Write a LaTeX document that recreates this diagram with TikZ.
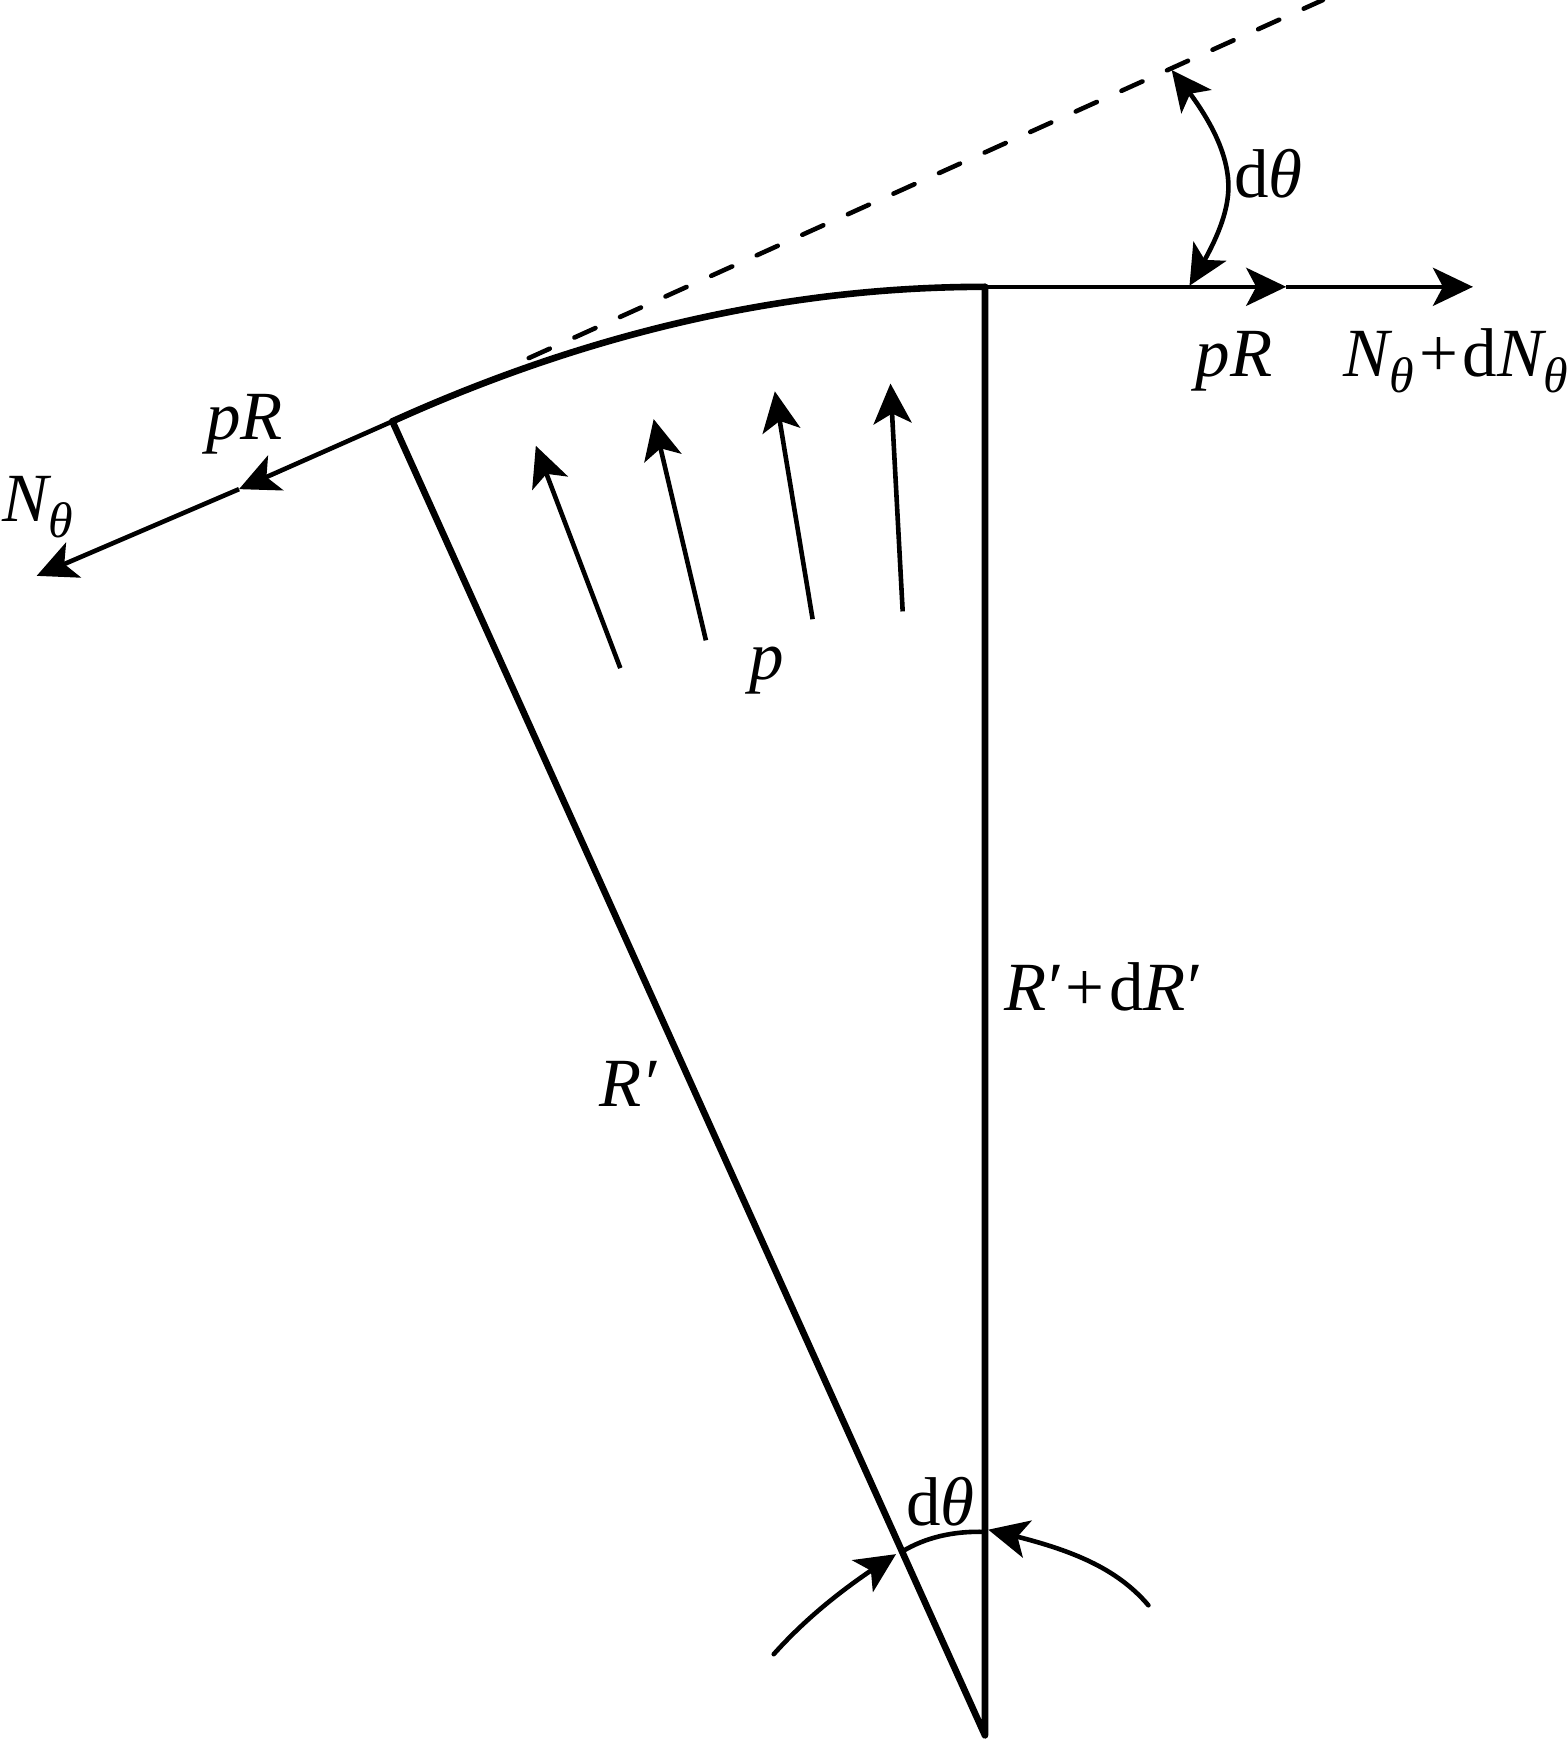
\documentclass[tikz,border=0pt]{standalone}
\usepackage{fontspec}
\setmainfont{Liberation Serif}
\usetikzlibrary{arrows.meta,bending}
\newcommand{\NTh}{\textit{N}\kern-1.5pt\raisebox{-8pt}{\fontsize{25}{25}\selectfont\textit{θ}}}
\newcommand{\PlusSign}{\kern2.5pt+\kern2.5pt}
\tikzset{
  x=0.5558pt,y=-0.5558pt,
  thickline/.style={line width=3.3pt,line cap=round,line join=round},
  midline/.style={line width=2.3pt},
  head/.style={-{Stealth[length=20pt,width=19pt,inset=5pt]}},
  label/.style={inner sep=0pt,font=\fontsize{34.5}{34.5}\selectfont},
}
\begin{document}
\begin{tikzpicture}
\useasboundingbox (0,0) rectangle (1409.6,1567);
\coordinate (apex) at (886,1561);
\coordinate (top) at (886,258);
\coordinate (left) at (353,379);
\coordinate (dashS) at (456,331);
\coordinate (dashE) at (1190,0);
\coordinate (tipA) at (1157,258);
\coordinate (tipB) at (1325,258);
\coordinate (tipC) at (215,440);
\coordinate (tipD) at (33,518);
\coordinate (a1) at (558,601); \coordinate (b1) at (482,401);
\coordinate (a2) at (635,576); \coordinate (b2) at (588,377);
\coordinate (a3) at (731,557); \coordinate (b3) at (697,352);
\coordinate (a4) at (812,550); \coordinate (b4) at (801,345);
\coordinate (angU) at (1054,63);
\coordinate (angM) at (1105,168);
\coordinate (angL) at (1070,257);
\coordinate (arcL) at (811,1396);
\coordinate (arcR) at (886,1378);
\coordinate (inLs) at (696,1488);
\coordinate (inLe) at (806,1398);
\coordinate (inRs) at (1033,1444);
\coordinate (inRe) at (889,1376);

\draw[midline,dash pattern=on 11.5pt off 13.5pt,dash phase=1pt,line cap=round] (dashE) -- (dashS);
\draw[thickline] (left) .. controls (532,298) and (710,258) .. (top);
\draw[thickline] (top) -- (apex) -- (left);
\draw[midline,head] (top) -- (tipA);
\draw[midline,head] (tipA) -- (tipB);
\draw[midline,head] (left) -- (tipC);
\draw[midline,head] (tipC) -- (tipD);
\draw[midline,head] (a1) -- (b1);
\draw[midline,head] (a2) -- (b2);
\draw[midline,head] (a3) -- (b3);
\draw[midline,head] (a4) -- (b4);
\draw[midline,{Stealth[length=20pt,width=19pt,inset=5pt,flex]}-{Stealth[length=20pt,width=19pt,inset=5pt,flex]}] (angU) .. controls (1078,92) and (1105,130) .. (angM) .. controls (1105,195) and (1090,225) .. (angL);
\draw[midline] (arcL) .. controls (832,1383) and (858,1377) .. (arcR);
\draw[midline,line cap=round,-{Stealth[length=20pt,width=19pt,inset=5pt,flex]}] (inLs) .. controls (730,1450) and (768,1422) .. (inLe);
\draw[midline,line cap=round,-{Stealth[length=20pt,width=19pt,inset=5pt,flex]}] (inRs) .. controls (1000,1405) and (950,1390) .. (inRe);

\node[label] (n1) at (1141,156) {d\textit{θ}};
\node[label] (n2) at (1110,325) {\textit{pR}};
\node[label,anchor=base west] (n3) at (1208,339) {\NTh\PlusSign d\NTh};
\node[label] (n4) at (220,382) {\textit{pR}};
\node[label,anchor=base west] (n5) at (2,469.5) {\NTh};
\node[label] (n6) at (690,603) {\textit{p}};
\node[label,anchor=west] (n7) at (903,888) {\textit{R}\kern-1pt\textit{′}\PlusSign d\textit{R}\kern-1pt\textit{′}};
\node[label] (n8) at (565,975) {\textit{R′}};
\node[label] (n9) at (846,1351) {d\textit{θ}};
\end{tikzpicture}
\end{document}
